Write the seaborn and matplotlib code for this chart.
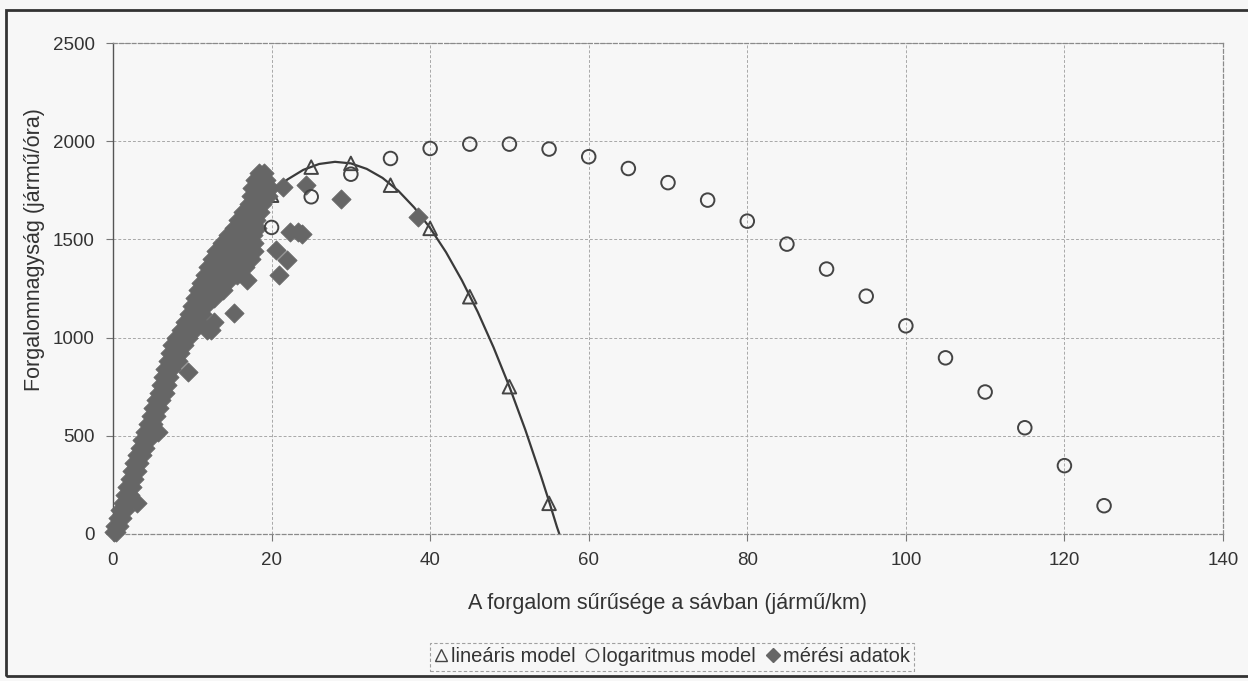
import matplotlib
matplotlib.use("Agg")
import matplotlib.pyplot as plt
import seaborn as sns
import pandas as pd
from matplotlib.lines import Line2D
from matplotlib.patches import Rectangle

# ---------------- data ----------------
lin_k = [20, 25, 30, 35, 40, 45, 50, 55]
lin_q = [1725, 1868, 1887, 1776, 1556, 1208, 750, 156]

curve_k = [21, 22, 24, 26, 28, 30, 32, 34, 36, 38, 40, 42, 44, 46, 48, 50, 52, 54, 55, 56, 56.3]
curve_q = [1774, 1805, 1854, 1884, 1895, 1887, 1859, 1813, 1747, 1662, 1558, 1435, 1292, 1131,
           950, 750, 531, 292, 166, 35, 0]

log_k = [20, 25, 30, 35, 40, 45, 50, 55, 60, 65, 70, 75, 80, 85, 90, 95, 100, 105, 110, 115, 120, 125]
log_q = [1561, 1717, 1832, 1912, 1963, 1985, 1985, 1960, 1921, 1861, 1789, 1700, 1593, 1476,
         1349, 1211, 1060, 897, 723, 541, 348, 144]

meas_rows = [
    (10, [0.1, 0.4]), (40, [0.3, 0.8]), (80, [0.6, 1.1]), (120, [0.9, 1.5]),
    (160, [1.2, 1.8, 3.0]), (200, [1.5, 2.1]), (240, [1.8, 2.4]), (280, [2.1, 2.7]),
    (320, [2.4, 3.0]), (360, [2.7, 3.3]), (400, [3.0, 3.7]), (440, [3.4, 4.0]),
    (480, [3.7, 4.4]), (520, [4.0, 4.7, 5.7]), (560, [4.4, 5.1]), (600, [4.8, 5.4]),
    (640, [5.1, 5.8]), (680, [5.4, 6.1]), (720, [5.8, 6.5]), (760, [6.1, 6.8]),
    (800, [6.3, 7.0]), (826, [9.4]), (840, [6.6, 7.3]), (880, [6.9, 7.6, 8.2]),
    (920, [7.2, 7.9, 8.5]), (960, [7.5, 8.3, 9.0]), (1000, [7.9, 8.7, 9.4]),
    (1040, [8.6, 9.4, 10.2, 11.8, 12.4]), (1080, [9.1, 9.9, 10.7, 12.7]),
    (1120, [9.6, 10.4, 11.2]), (1127, [15.2]), (1160, [10.0, 10.8, 11.6]),
    (1200, [10.4, 11.2, 12.0, 12.8]), (1240, [10.7, 11.5, 12.3, 13.1, 13.9]),
    (1280, [11.1, 11.9, 12.7, 13.5, 14.3]), (1293, [16.9]), (1318, [20.9]),
    (1320, [11.6, 12.4, 13.2, 14.0, 14.8, 15.6]), (1360, [12.0, 12.8, 13.6, 14.4, 15.2, 16.0, 16.7]),
    (1395, [21.9]), (1400, [12.5, 13.3, 14.1, 14.9, 15.8, 16.6, 17.4]),
    (1440, [13.0, 13.8, 14.6, 15.4, 16.2, 17.0, 17.8]), (1446, [20.6]),
    (1480, [13.8, 14.6, 15.4, 16.2, 17.0, 17.8]), (1520, [14.5, 15.3, 16.1, 16.9, 17.7]),
    (1525, [23.9]), (1540, [22.3, 23.3]), (1560, [15.2, 16.0, 16.8, 17.6, 18.2]),
    (1600, [15.8, 16.6, 17.4, 18.0]), (1615, [38.5]), (1640, [16.4, 17.2, 17.9, 18.5]),
    (1680, [17.2, 18.0, 18.8]), (1705, [28.8]), (1720, [17.4, 18.2, 19.0, 19.6]),
    (1760, [17.5, 18.3, 19.1, 19.8]), (1766, [21.4]), (1776, [24.4]),
    (1800, [17.9, 18.6, 19.3]), (1840, [18.4, 19.0]),
]
meas_k = [k for q, ks in meas_rows for k in ks]
meas_q = [q for q, ks in meas_rows for k in ks]

x_ticks = [0, 20, 40, 60, 80, 100, 120, 140]
y_ticks = [0, 500, 1000, 1500, 2000, 2500]

x_label = "A forgalom sűrűsége a sávban (jármű/km)"
y_label = "Forgalomnagyság (jármű/óra)"
legend_labels = ["lineáris model", "logaritmus model", "mérési adatok"]

# ---------------- styling ----------------
sns.set_theme(style="white")
plt.rcParams["font.family"] = ["Liberation Sans", "DejaVu Sans"]
TXT = "#333333"
BG = "#f7f7f7"

fig = plt.figure(figsize=(12.48, 6.81), dpi=100, facecolor=BG)
W, H = 1248, 681
ax = fig.add_axes([113 / W, 1 - 534 / H, (1223 - 113) / W, (534 - 43) / H])
ax.set_facecolor(BG)

lin_df = pd.DataFrame({"k": lin_k, "q": lin_q})
curve_df = pd.DataFrame({"k": curve_k, "q": curve_q})
log_df = pd.DataFrame({"k": log_k, "q": log_q})
meas_df = pd.DataFrame({"k": meas_k, "q": meas_q})

sns.lineplot(data=curve_df, x="k", y="q", ax=ax, sort=False, color="#3a3a3a",
             linewidth=1.6, zorder=2, legend=False)
sns.scatterplot(data=lin_df, x="k", y="q", ax=ax, marker="^", s=95,
                facecolor="none", edgecolor="#444444", linewidth=1.4, zorder=3, legend=False)
sns.scatterplot(data=meas_df, x="k", y="q", ax=ax, marker="D", s=95,
                color="#666666", edgecolor="#666666", linewidth=0.6, zorder=4,
                legend=False, clip_on=False)
sns.scatterplot(data=log_df, x="k", y="q", ax=ax, marker="o", s=95,
                facecolor="none", edgecolor="#444444", linewidth=1.4, zorder=5, legend=False)

ax.set_xlim(0, 140)
ax.set_ylim(0, 2500)
ax.set_xticks(x_ticks)
ax.set_yticks(y_ticks)
ax.set_xticklabels([str(v) for v in x_ticks])
ax.set_yticklabels([str(v) for v in y_ticks])
ax.tick_params(axis="both", which="major", labelsize=13.5, labelcolor=TXT,
               length=5, width=0.8, color="#777777", pad=8, direction="out")
ax.tick_params(axis="x", bottom=True)
ax.tick_params(axis="y", left=True)

ax.grid(True, color="#a8a8a8", linestyle=(0, (3, 2)), linewidth=0.7, zorder=0)
ax.set_axisbelow(True)
for side in ["top", "right", "bottom"]:
    ax.spines[side].set_visible(True)
    ax.spines[side].set_color("#8a8a8a")
    ax.spines[side].set_linestyle((0, (3, 2)))
    ax.spines[side].set_linewidth(0.9)
ax.spines["left"].set_color("#555555")
ax.spines["left"].set_linewidth(1.0)

ax.set_xlabel(x_label, fontsize=15.5, color=TXT, labelpad=17)
ax.set_ylabel(y_label, fontsize=15.5, color=TXT, labelpad=9)
ax.yaxis.set_label_coords(-0.061, (534 - 250) / 491)

handles = [
    Line2D([], [], linestyle="none", marker="^", markersize=9, markerfacecolor="none",
           markeredgecolor="#444444", markeredgewidth=1.0),
    Line2D([], [], linestyle="none", marker="o", markersize=9, markerfacecolor="none",
           markeredgecolor="#444444", markeredgewidth=1.0),
    Line2D([], [], linestyle="none", marker="D", markersize=7, markerfacecolor="#666666",
           markeredgecolor="#666666"),
]
leg = fig.legend(handles, legend_labels, loc="center", bbox_to_anchor=(672 / W, 1 - 657 / H),
                 ncol=3, fontsize=14.5, frameon=True, handlelength=0.7, handletextpad=0.15,
                 columnspacing=0.5, borderpad=0.2, labelcolor=TXT, fancybox=False)
frame = leg.get_frame()
frame.set_linestyle((0, (3, 2)))
frame.set_edgecolor("#8a8a8a")
frame.set_facecolor(BG)
frame.set_linewidth(0.8)

# outer chart border
fig.patches.append(Rectangle((6 / W, 1 - 676 / H), (1300 - 6) / W, (676 - 10) / H,
                             transform=fig.transFigure, fill=False, edgecolor="#333333",
                             linewidth=2.0, clip_on=False))

fig.savefig("out.png", dpi=100, facecolor=BG)
